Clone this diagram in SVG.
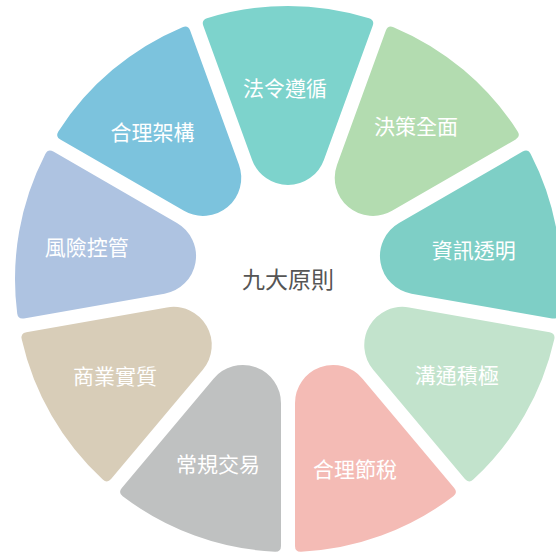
<svg xmlns="http://www.w3.org/2000/svg" width="556" height="553" viewBox="0 0 556 553">
<defs>
<style>
.lbl{font-family:"Noto Sans CJK TC","Noto Sans CJK SC",sans-serif;font-size:21px;fill:#ffffff;text-anchor:middle;dominant-baseline:central;}
.ctr{font-family:"Noto Sans CJK TC","Noto Sans CJK SC",sans-serif;font-size:23px;fill:#555555;text-anchor:middle;dominant-baseline:central;}
</style>
<path id="seg" d="M -35.89,-119.09 L -84.71,-253.21 Q -86.76,-258.84 -81.04,-260.69 A 273 273 0 0 1 81.04,-260.69 Q 86.76,-258.84 84.71,-253.21 L 35.89,-119.09 A 38.2 38.2 0 0 1 -35.89,-119.09 Z"/>
</defs>
<rect width="556" height="553" fill="#ffffff"/>
<g id="connectors"></g>
<g id="n1"><use href="#seg" fill="#7dd3cc" transform="translate(288,279) rotate(0)"/><text class="lbl" x="285" y="87">法令遵循</text></g>
<g id="n2"><use href="#seg" fill="#b3dcb0" transform="translate(288,279) rotate(40)"/><text class="lbl" x="416" y="124.5">決策全面</text></g>
<g id="n3"><use href="#seg" fill="#7ecfc6" transform="translate(288,279) rotate(80)"/><text class="lbl" x="473.7" y="249">資訊透明</text></g>
<g id="n4"><use href="#seg" fill="#c2e3cc" transform="translate(288,279) rotate(120)"/><text class="lbl" x="456.7" y="374">溝通積極</text></g>
<g id="n5"><use href="#seg" fill="#f4bbb5" transform="translate(288,279) rotate(160)"/><text class="lbl" x="355" y="468">合理節稅</text></g>
<g id="n6"><use href="#seg" fill="#bfc1c1" transform="translate(288,279) rotate(200)"/><text class="lbl" x="218" y="462.5">常規交易</text></g>
<g id="n7"><use href="#seg" fill="#d8cdb8" transform="translate(288,279) rotate(240)"/><text class="lbl" x="115" y="375">商業實質</text></g>
<g id="n8"><use href="#seg" fill="#aec3e1" transform="translate(288,279) rotate(280)"/><text class="lbl" x="86.7" y="246">風險控管</text></g>
<g id="n9"><use href="#seg" fill="#7cc3dd" transform="translate(288,279) rotate(320)"/><text class="lbl" x="152.5" y="131">合理架構</text></g>
<g id="center"><text class="ctr" x="288" y="278">九大原則</text></g>
</svg>
